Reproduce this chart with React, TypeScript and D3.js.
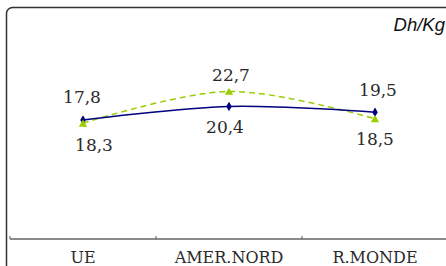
import { useEffect, useRef } from "react";
import * as d3 from "d3";

const categories = ["UE", "AMER.NORD", "R.MONDE"];
const blueValues = [18.3, 20.4, 19.5];
const greenValues = [17.8, 22.7, 18.5];
const unitLabel = "Dh/Kg";

// label layout (hand-placed in the source chart): [dx, dy] from the point
const blueLabelNudge = [
  [11, 31],
  [-4, 27],
  [3, -16],
];
const greenLabelNudge = [
  [-1, -20],
  [2, -10],
  [0, 26],
];

const fmt = (v: number) => v.toFixed(1).replace(".", ",");

export default function App() {
  const ref = useRef<SVGSVGElement | null>(null);

  useEffect(() => {
    const svgEl = ref.current;
    if (!svgEl) return;
    const svg = d3.select(svgEl);
    svg.selectAll("*").remove();

    const width = 446;
    const height = 266;
    const axisY = 239;
    const left = 10;
    const right = 448;

    svg
      .append("rect")
      .attr("x", 6.5)
      .attr("y", 7.5)
      .attr("width", width + 20)
      .attr("height", height + 20)
      .attr("rx", 6)
      .attr("fill", "#fff")
      .attr("stroke", "#333")
      .attr("stroke-width", 1.5);

    const x = d3.scaleBand<string>().domain(categories).range([left, right]);
    const y = d3.scaleLinear().domain([0, 35]).range([axisY, 11.5]);
    const cx = (c: string) => (x(c) ?? 0) + x.bandwidth() / 2;

    // category axis
    const axis = svg.append("g").attr("transform", `translate(0,${axisY})`);
    axis
      .append("line")
      .attr("x1", left)
      .attr("x2", width)
      .attr("stroke", "#8a8a8a")
      .attr("stroke-width", 1.8);
    axis
      .selectAll("line.tick")
      .data(categories)
      .join("line")
      .attr("class", "tick")
      .attr("x1", (c) => x(c) ?? 0)
      .attr("x2", (c) => x(c) ?? 0)
      .attr("y1", 0)
      .attr("y2", -3)
      .attr("stroke", "#555")
      .attr("stroke-width", 1);
    axis
      .selectAll("text")
      .data(categories)
      .join("text")
      .attr("x", cx)
      .attr("y", 24)
      .attr("text-anchor", "middle")
      .attr("font-family", "DejaVu Serif")
      .attr("font-size", 16)
      .attr("fill", "#2a2a2a")
      .text((c) => c);

    const line = d3
      .line<number>()
      .x((_, i) => cx(categories[i]))
      .y((v) => y(v))
      .curve(d3.curveCatmullRom.alpha(0.5));

    svg
      .append("path")
      .attr("d", line(greenValues))
      .attr("fill", "none")
      .attr("stroke", "#9acd00")
      .attr("stroke-width", 1.5)
      .attr("stroke-dasharray", "6 4");

    svg
      .append("path")
      .attr("d", line(blueValues))
      .attr("fill", "none")
      .attr("stroke", "#000080")
      .attr("stroke-width", 1.5);

    svg
      .append("g")
      .selectAll("path")
      .data(blueValues)
      .join("path")
      .attr("transform", (v, i) => `translate(${cx(categories[i])},${y(v)})`)
      .attr("d", d3.symbol(d3.symbolDiamond, 26)())
      .attr("fill", "#000080");

    svg
      .append("g")
      .selectAll("path")
      .data(greenValues)
      .join("path")
      .attr("transform", (v, i) => `translate(${cx(categories[i])},${y(v) + 1})`)
      .attr("d", d3.symbol(d3.symbolTriangle, 30)())
      .attr("fill", "#9acd00");

    const labels = [
      ...blueValues.map((v, i) => ({ v, i, n: blueLabelNudge[i] })),
      ...greenValues.map((v, i) => ({ v, i, n: greenLabelNudge[i] })),
    ];
    svg
      .append("g")
      .selectAll("text")
      .data(labels)
      .join("text")
      .attr("x", (d) => cx(categories[d.i]) + d.n[0])
      .attr("y", (d) => y(d.v) + d.n[1])
      .attr("text-anchor", "middle")
      .attr("font-family", "DejaVu Serif")
      .attr("font-size", 17)
      .attr("fill", "#2a2a2a")
      .text((d) => fmt(d.v));

    svg
      .append("text")
      .attr("x", 445)
      .attr("y", 31)
      .attr("text-anchor", "end")
      .attr("font-family", "Liberation Sans")
      .attr("font-style", "italic")
      .attr("font-size", 18.5)
      .attr("fill", "#111")
      .text(unitLabel);
  }, []);

  return (
    <div style={{ position: "absolute", left: 0, top: 0 }}>
      <svg ref={ref} width={446} height={266} style={{ display: "block" }} />
    </div>
  );
}
